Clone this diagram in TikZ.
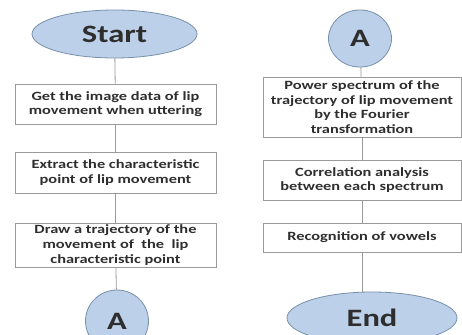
\documentclass[tikz,border=0pt]{standalone}
\usepackage{fontspec}
\setmainfont{Carlito}
\newfontfamily\widefont[FakeStretch=1.3]{Carlito}
\usetikzlibrary{shapes.geometric}

\definecolor{termfill}{HTML}{BDD0E9}
\definecolor{termline}{HTML}{7890AA}
\definecolor{boxline}{HTML}{9A9A9A}
\definecolor{txtgray}{HTML}{2E2E2E}

\begin{document}
\begin{tikzpicture}[x=1pt,y=-1pt,
        term/.style={ellipse,draw=termline,fill=termfill,line width=0.8pt,inner sep=0pt,
                font=\widefont\fontsize{25}{27}\selectfont\bfseries,text=txtgray},
        stepbox/.style={rectangle,draw=boxline,line width=0.8pt,inner sep=0pt,align=center,
                font=\widefont\fontsize{12.6}{14.6}\selectfont\bfseries,text=txtgray},
        link/.style={draw=boxline,line width=0.8pt}]
                \useasboundingbox (0,0) rectangle (462,334);
                % left column
                \node[term,minimum width=165pt,minimum height=48pt] (start) at (114.5,34) {Start};
                \node[stepbox,minimum width=201pt,minimum height=40pt] (get) at (115.5,104)
                        {Get the image data of lip\\movement when uttering};
                \node[stepbox,minimum width=201pt,minimum height=41pt] (extract) at (115.5,172.5)
                        {Extract the characteristic\\point of lip movement};
                \node[stepbox,minimum width=201pt,minimum height=44pt] (traj) at (115.5,245)
                        {Draw a trajectory of the\\movement of\ \ the\ \ lip\\characteristic point};
                \node[term,minimum width=63pt,minimum height=62pt] (outA) at (117,321) {A};
                % right column
                \node[term,minimum width=63pt,minimum height=57pt] (inA) at (360,38.5) {A};
                \node[stepbox,minimum width=198pt,minimum height=60pt] (power) at (362,107)
                        {Power spectrum of the\\trajectory of lip movement\\by the Fourier\\transformation};
                \node[stepbox,minimum width=198pt,minimum height=40pt] (corr) at (362,180)
                        {Correlation analysis\\between each spectrum};
                \node[stepbox,minimum width=198pt,minimum height=29pt] (vowel) at (362,237.5)
                        {Recognition of vowels};
                \node[term,minimum width=170pt,minimum height=52pt] (end) at (372,318) {End};
                % connectors
                \draw[link] (start) -- (get);
                \draw[link] (get) -- (extract);
                \draw[link] (extract) -- (traj);
                \draw[link] (traj) -- (outA);
                \draw[link] (inA) -- (power);
                \draw[link] (power) -- (corr);
                \draw[link] (corr) -- (vowel);
                \draw[link] (vowel.south) -- (vowel.south |- end.north);
        \end{tikzpicture}
\end{document}
